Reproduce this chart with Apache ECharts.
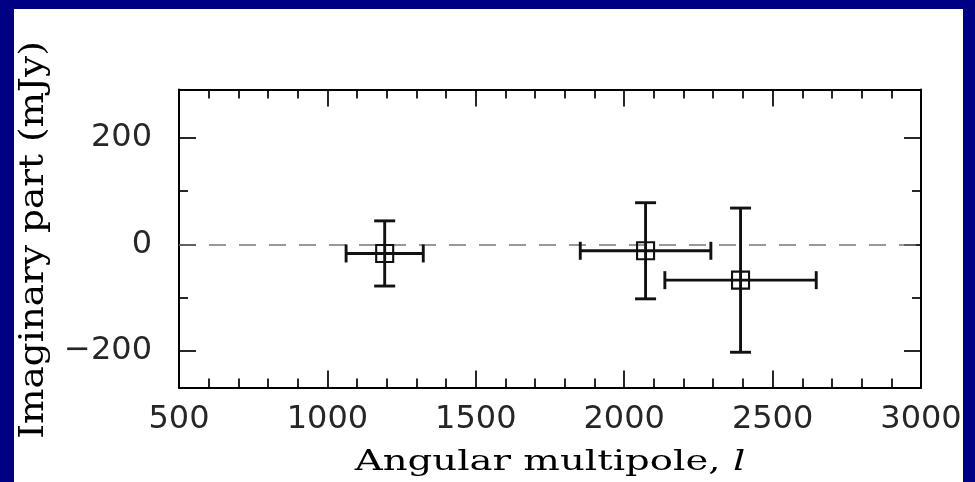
<!DOCTYPE html>
<html>
<head>
<meta charset="utf-8">
<script src="https://cdn.jsdelivr.net/npm/echarts@6/dist/echarts.min.js"></script>
<style>
html,body{margin:0;padding:0;background:#fff;}
#chart{width:975px;height:482px;}
</style>
</head>
<body>
<div id="chart"></div>
<script>
// ---- data ----
const multipole = [1193, 2072, 2392];      // x centre (angular multipole l)
const imagPart = [-17, -12, -67];          // y centre (mJy)
const multipoleErr = [130, 220, 255];      // half-width of x error bar
const imagErr = [61, 90, 135];             // half-height of y error bar
const xTickValues = [500, 1000, 1500, 2000, 2500, 3000];
const yMajorTicks = [-200, 0, 200];
const yMinorTicks = [-100, 100];
const xTitle = 'Angular multipole, ';
const xTitleItalic = 'l';
const yTitle = 'Imaginary part (mJy)';

const chart = echarts.init(document.getElementById('chart'), null, {renderer: 'canvas'});

const frameLine = {show: true, onZero: false, lineStyle: {color: '#000', width: 2}};
const noLine = {show: false, onZero: false};
const tickStyle = {color: '#000', width: 1.7};
const gridRect = {left: 179, right: 54, top: 89.5, bottom: 94.5};

function renderItem(params, api) {
  const x = api.value(0), y = api.value(1), ex = api.value(2), ey = api.value(3);
  const c = api.coord([x, y]);
  const l = api.coord([x - ex, y]);
  const r = api.coord([x + ex, y]);
  const t = api.coord([x, y + ey]);
  const b = api.coord([x, y - ey]);
  const capH = 9, capV = 10.5;
  const st = {stroke: '#111', lineWidth: 2.9, fill: null};
  const line = (x1, y1, x2, y2) => ({type: 'line', shape: {x1, y1, x2, y2}, style: st});
  return {
    type: 'group',
    children: [
      line(l[0], l[1], r[0], r[1]),
      line(t[0], t[1], b[0], b[1]),
      line(l[0], l[1] - capH, l[0], l[1] + capH),
      line(r[0], r[1] - capH, r[0], r[1] + capH),
      line(t[0] - capV, t[1], t[0] + capV, t[1]),
      line(b[0] - capV, b[1], b[0] + capV, b[1]),
      {type: 'rect', shape: {x: c[0] - 8.5, y: c[1] - 8.5, width: 17, height: 17},
       style: {stroke: '#111', lineWidth: 2.1, fill: null}}
    ]
  };
}

const option = {
  backgroundColor: '#fff',
  animation: false,
  grid: [
    Object.assign({show: false}, gridRect),
    Object.assign({show: false}, gridRect)
  ],
  xAxis: [
    {
      type: 'value', gridIndex: 0, position: 'bottom', min: 500, max: 3000, interval: 500,
      axisLine: frameLine,
      axisTick: {show: true, inside: true, length: 17, lineStyle: tickStyle},
      minorTick: {show: true, splitNumber: 5, length: 9, lineStyle: tickStyle},
      splitLine: {show: false},
      axisLabel: {
        show: true, margin: 16, color: '#262626', fontFamily: 'DejaVu Sans', fontSize: 32,
        customValues: xTickValues,
        formatter: v => String(v)
      }
    },
    {
      type: 'value', gridIndex: 0, position: 'top', min: 500, max: 3000, interval: 500,
      axisLine: frameLine,
      axisTick: {show: true, inside: true, length: 17, lineStyle: tickStyle},
      minorTick: {show: true, splitNumber: 5, length: 9, lineStyle: tickStyle},
      splitLine: {show: false},
      axisLabel: {show: false}
    },
    {
      type: 'value', gridIndex: 1, min: 500, max: 3000, show: false, axisLine: noLine
    }
  ],
  yAxis: [
    {
      type: 'value', gridIndex: 0, position: 'left', min: -268, max: 290,
      axisLine: frameLine,
      axisTick: {show: true, inside: true, length: 17, lineStyle: tickStyle, customValues: yMajorTicks},
      splitLine: {show: false},
      axisLabel: {
        show: true, margin: 27, color: '#262626', fontFamily: 'DejaVu Sans', fontSize: 32,
        customValues: yMajorTicks,
        formatter: v => String(v).replace('-', '\u2212')
      }
    },
    {
      type: 'value', gridIndex: 0, position: 'right', min: -268, max: 290,
      axisLine: frameLine,
      axisTick: {show: true, inside: true, length: 17, lineStyle: tickStyle, customValues: yMajorTicks},
      splitLine: {show: false},
      axisLabel: {show: false}
    },
    {
      type: 'value', gridIndex: 1, position: 'left', min: -268, max: 290,
      axisLine: noLine,
      axisTick: {show: true, inside: true, length: 9, lineStyle: tickStyle, customValues: yMinorTicks},
      splitLine: {show: false},
      axisLabel: {show: false}
    },
    {
      type: 'value', gridIndex: 1, position: 'right', min: -268, max: 290,
      axisLine: noLine,
      axisTick: {show: true, inside: true, length: 9, lineStyle: tickStyle, customValues: yMinorTicks},
      splitLine: {show: false},
      axisLabel: {show: false}
    }
  ],
  series: [
    {
      type: 'custom',
      xAxisIndex: 0, yAxisIndex: 0,
      renderItem: renderItem,
      encode: {x: 0, y: 1},
      data: multipole.map((x, i) => [x, imagPart[i], multipoleErr[i], imagErr[i]]),
      clip: false,
      z: 5,
      markLine: {
        silent: true,
        symbol: ['none', 'none'],
        label: {show: false},
        lineStyle: {color: '#777', width: 1.5, type: [17, 13]},
        data: [{yAxis: 0}]
      }
    }
  ],
  graphic: [
    {
      type: 'text', x: 550, y: 463, scaleX: 1.38, z: 50,
      style: {
        text: xTitle + '{i|' + xTitleItalic + '}',
        font: '28px "DejaVu Serif"', fill: '#000',
        textAlign: 'center', textVerticalAlign: 'middle',
        rich: {i: {fontFamily: 'DejaVu Serif', fontStyle: 'italic', fontSize: 28, fill: '#000'}}
      }
    },
    {
      type: 'text', x: 34, y: 240, rotation: Math.PI / 2, scaleX: 1.1, z: 50,
      style: {
        text: yTitle, font: '34px "DejaVu Serif"', fill: '#000',
        textAlign: 'center', textVerticalAlign: 'middle'
      }
    },
    {type: 'rect', z: 100, shape: {x: 0, y: 0, width: 975, height: 9}, style: {fill: '#000084'}},
    {type: 'rect', z: 100, shape: {x: 0, y: 0, width: 14, height: 482}, style: {fill: '#000084'}},
    {type: 'rect', z: 100, shape: {x: 963, y: 0, width: 12, height: 482}, style: {fill: '#000084'}}
  ]
};

chart.setOption(option);
</script>
</body>
</html>
